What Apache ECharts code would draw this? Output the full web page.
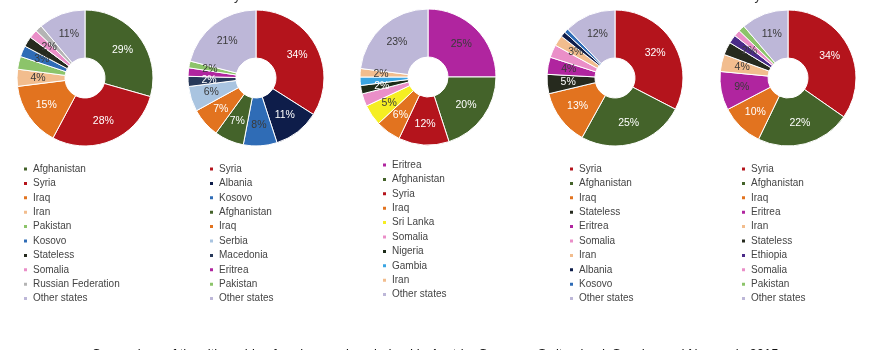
<!DOCTYPE html>
<html>
<head>
<meta charset="utf-8">
<script src="https://cdn.jsdelivr.net/npm/echarts@6/dist/echarts.min.js"></script>
<style>
  html, body { margin: 0; padding: 0; background: #fff; }
  #main { width: 870px; height: 350px; }
</style>
</head>
<body>
<div id="main"></div>
<script>
var countries = ['Austria', 'Germany', 'Switzerland', 'Sweden', 'Norway'];

var austriaNames = ['Afghanistan', 'Syria', 'Iraq', 'Iran', 'Pakistan', 'Kosovo', 'Stateless', 'Somalia', 'Russian Federation', 'Other states'];
var austriaValues = [29, 28, 15, 4, 3, 2.6, 2.4, 2, 1.6, 11];

var germanyNames = ['Syria', 'Albania', 'Kosovo', 'Afghanistan', 'Iraq', 'Serbia', 'Macedonia', 'Eritrea', 'Pakistan', 'Other states'];
var germanyValues = [34, 11, 8, 7, 7, 6, 2.4, 2, 1.6, 21];

var switzerlandNames = ['Eritrea', 'Afghanistan', 'Syria', 'Iraq', 'Sri Lanka', 'Somalia', 'Nigeria', 'Gambia', 'Iran', 'Other states'];
var switzerlandValues = [25, 20, 12, 6, 5, 3, 2, 2, 2, 23];

var swedenNames = ['Syria', 'Afghanistan', 'Iraq', 'Stateless', 'Eritrea', 'Somalia', 'Iran', 'Albania', 'Kosovo', 'Other states'];
var swedenValues = [32, 25, 13, 4.5, 4, 3, 2.5, 1.2, 1, 12];

var norwayNames = ['Syria', 'Afghanistan', 'Iraq', 'Eritrea', 'Iran', 'Stateless', 'Ethiopia', 'Somalia', 'Pakistan', 'Other states'];
var norwayValues = [34, 22, 10, 9, 4, 3, 2, 1.5, 1.5, 11];

// one colour per country of origin, and whether its label is white
var colorOf = {
  'Syria': '#b4141c',
  'Afghanistan': '#44632a',
  'Iraq': '#e2731f',
  'Iran': '#f2bd8e',
  'Pakistan': '#8cc46a',
  'Kosovo': '#2f6cb6',
  'Stateless': '#262a1e',
  'Somalia': '#ea8fc8',
  'Russian Federation': '#b4b4b4',
  'Other states': '#bdb7d8',
  'Albania': '#0e1d4a',
  'Serbia': '#a9c4e0',
  'Macedonia': '#27395a',
  'Eritrea': '#b0259f',
  'Sri Lanka': '#f5ee22',
  'Nigeria': '#1d2b18',
  'Gambia': '#3aa5e2',
  'Ethiopia': '#4a2a88'
};
var whiteLabel = ['Syria', 'Afghanistan', 'Iraq', 'Albania', 'Stateless', 'Nigeria', 'Macedonia'];

var centers = [[85, 78], [256, 78], [428, 77], [615, 78], [788, 78]];
var legendLeft = [22, 208, 381, 568, 740];
var legendTop = [163, 163, 159, 163, 163];
var titleLeft = [12, 187, 370, 535, 717];

function buildData(names, values) {
  var out = [];
  for (var i = 0; i < names.length; i++) {
    out.push({
      name: names[i],
      value: values[i],
      itemStyle: { color: colorOf[names[i]] },
      label: { color: whiteLabel.indexOf(names[i]) >= 0 ? '#ffffff' : '#3a3a3a' }
    });
  }
  return out;
}

var allNames = [austriaNames, germanyNames, switzerlandNames, swedenNames, norwayNames];
var allValues = [austriaValues, germanyValues, switzerlandValues, swedenValues, norwayValues];

var series = [], legends = [], titles = [];
for (var k = 0; k < countries.length; k++) {
  series.push({
    name: countries[k],
    type: 'pie',
    center: centers[k],
    radius: [20, 68],
    startAngle: 90,
    clockwise: true,
    avoidLabelOverlap: false,
    itemStyle: { borderColor: '#ffffff', borderWidth: 1 },
    label: {
      show: true,
      position: 'inside',
      fontFamily: 'Liberation Sans, Arial, sans-serif',
      fontSize: 10.5,
      formatter: function (p) { return Math.round(p.value) + '%'; }
    },
    labelLine: { show: false },
    emphasis: { disabled: true },
    data: buildData(allNames[k], allValues[k])
  });
  legends.push({
    orient: 'vertical',
    left: legendLeft[k],
    top: legendTop[k],
    padding: 0,
    itemWidth: 5,
    itemHeight: 5,
    itemGap: 2.4,
    icon: 'rect',
    selectedMode: false,
    textStyle: { color: '#444', fontSize: 10, lineHeight: 12, fontFamily: 'Liberation Sans, Arial, sans-serif' },
    data: allNames[k]
  });
  if (k !== 2) {
    titles.push({
      text: countries[k],
      left: titleLeft[k],
      top: -10,
      padding: 0,
      textStyle: { fontSize: 13, fontWeight: 'normal', color: '#333', fontFamily: 'Liberation Sans, Arial, sans-serif' }
    });
  }
}
titles.push({
  text: 'Comparison of the citizenship of asylum seekers lodged in Austria, Germany, Switzerland, Sweden and Norway in 2015',
  left: 'center',
  top: 348,
  padding: 0,
  textStyle: { fontSize: 13, fontWeight: 'normal', color: '#111', fontFamily: 'Liberation Sans, Arial, sans-serif' }
});

var myChart = echarts.init(document.getElementById('main'));
myChart.setOption({
  animation: false,
  title: titles,
  legend: legends,
  series: series
});
</script>
</body>
</html>
